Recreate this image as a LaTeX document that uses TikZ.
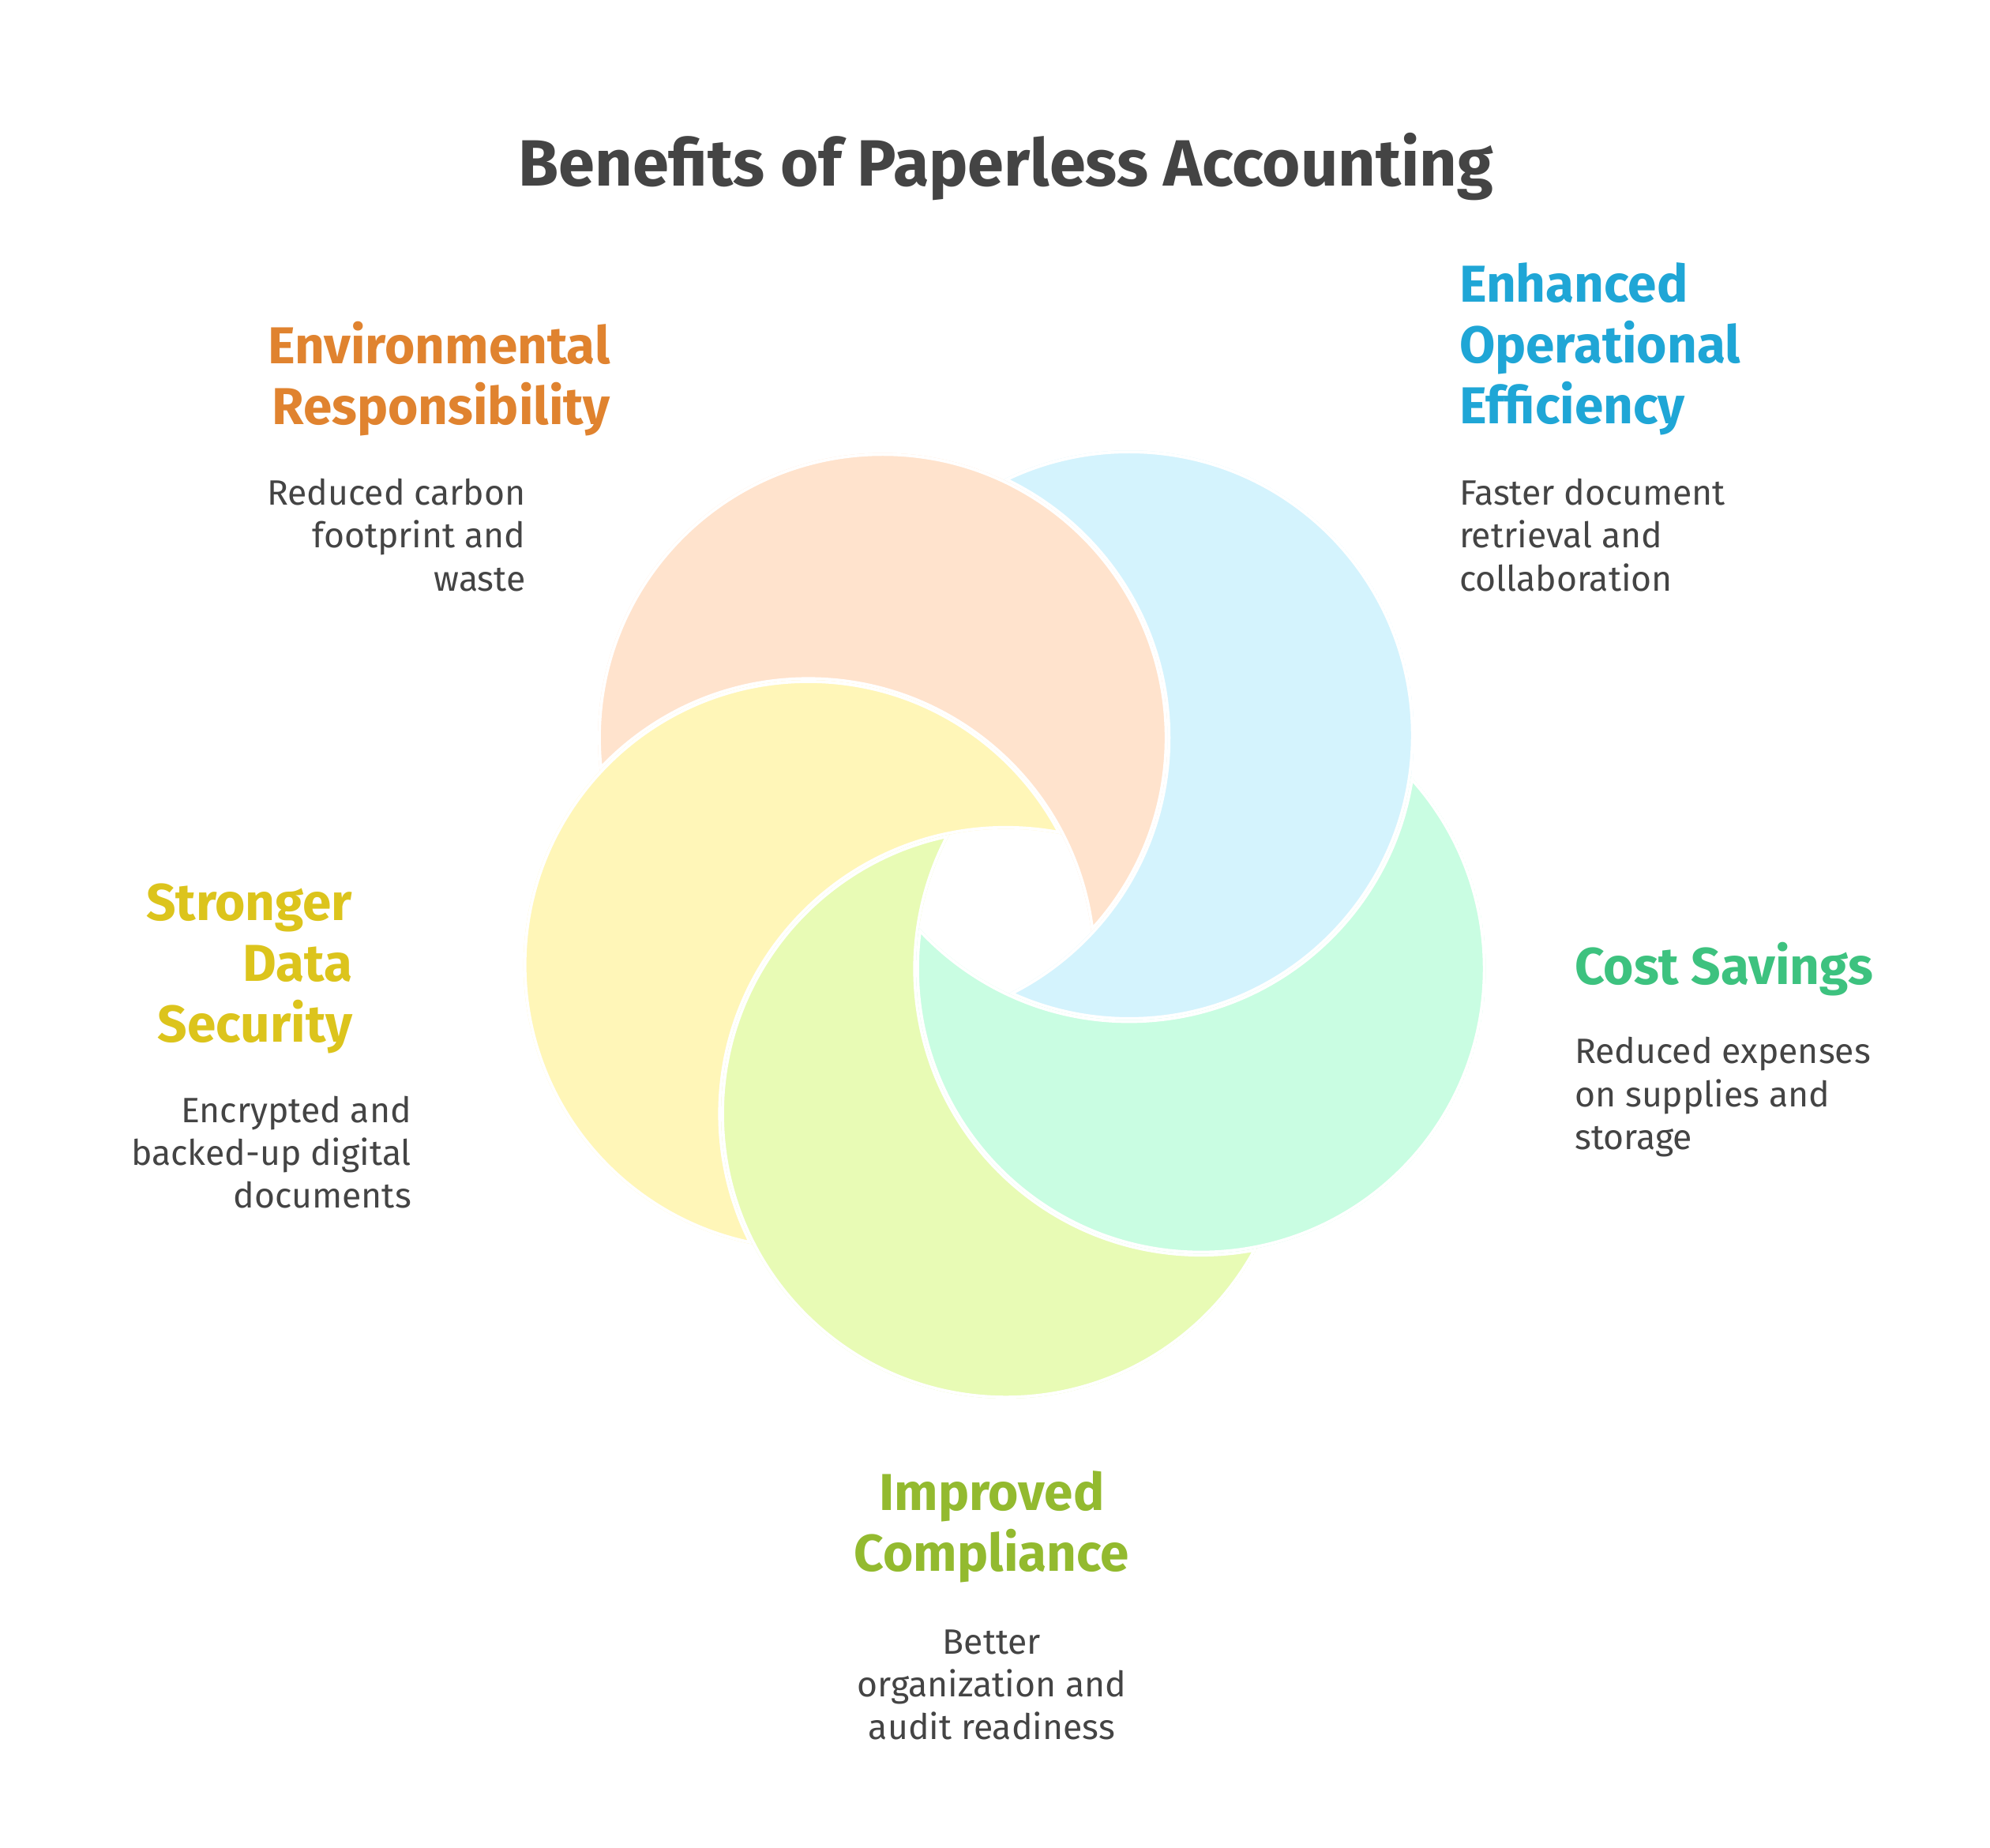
\documentclass[tikz,border=0pt]{standalone}
\usepackage{fontspec}
\setmainfont{Fira Sans}
\definecolor{ink}{HTML}{444444}
\definecolor{envfill}{HTML}{FFE3CD}
\definecolor{opsfill}{HTML}{D4F3FD}
\definecolor{costfill}{HTML}{C9FDE2}
\definecolor{compfill}{HTML}{E8FBB5}
\definecolor{secfill}{HTML}{FFF6B8}
\definecolor{envtext}{HTML}{E0832F}
\definecolor{opstext}{HTML}{1FA6D6}
\definecolor{costtext}{HTML}{3DC27F}
\definecolor{comptext}{HTML}{93BA2F}
\definecolor{sectext}{HTML}{DCC41C}
\tikzset{
  head/.style={font=\fontsize{11.5}{13.5}\selectfont\bfseries},
  desc/.style={font=\fontsize{7.8}{9.5}\selectfont, text=ink},
}
% one crescent: circle #1 minus circle #2
\newcommand{\petal}[3]{%
  \begin{scope}
    \clip #1 circle (222);
    \begin{scope}[even odd rule]
      \clip (-100,-100) rectangle (1700,1600) #2 circle (222);
      \fill[#3] #1 circle (222);
      \draw[white, line width=1.3pt] #1 circle (222) #2 circle (222);
    \end{scope}
  \end{scope}}
\begin{document}
\begin{tikzpicture}[x=0.01cm, y=-0.01cm]
  \useasboundingbox[fill=white] (0,0) rectangle (1551,1440);
  \coordinate (env) at (688,575);
  \coordinate (ops) at (880,573);
  \coordinate (cost) at (936,755);
  \coordinate (comp) at (784,868);
  \coordinate (sec) at (630,752);
  \petal{(ops)}{(env)}{opsfill}
  \petal{(env)}{(sec)}{envfill}
  \petal{(sec)}{(comp)}{secfill}
  \petal{(comp)}{(cost)}{compfill}
  \petal{(cost)}{(ops)}{costfill}

  \node (title) at (784,130) [font=\fontsize{14.5}{17}\selectfont\bfseries, text=ink] {Benefits of Paperless Accounting};

  \node (envhead) at (488,295) [head, text=envtext, anchor=east, align=right] {Environmental\\Responsibility};
  \node (envdesc) at (422,417) [desc, anchor=east, align=right] {Reduced carbon\\footprint and\\waste};

  \node (opshead) at (1125,272) [head, text=opstext, anchor=west, align=left] {Enhanced\\Operational\\Efficiency};
  \node (opsdesc) at (1125,417) [desc, anchor=west, align=left] {Faster document\\retrieval and\\collaboration};

  \node (costhead) at (1215,755) [head, text=costtext, anchor=west] {Cost Savings};
  \node (costdesc) at (1215,855) [desc, anchor=west, align=left] {Reduced expenses\\on supplies and\\storage};

  \node (comphead) at (773,1190) [head, text=comptext, align=center] {Improved\\Compliance};
  \node (compdesc) at (773,1313) [desc, align=center] {Better\\organization and\\audit readiness};

  \node (sechead) at (287,755) [head, text=sectext, anchor=east, align=right] {Stronger\\Data\\Security};
  \node (secdesc) at (333,898) [desc, anchor=east, align=right] {Encrypted and\\backed-up digital\\documents};
\end{tikzpicture}
\end{document}
